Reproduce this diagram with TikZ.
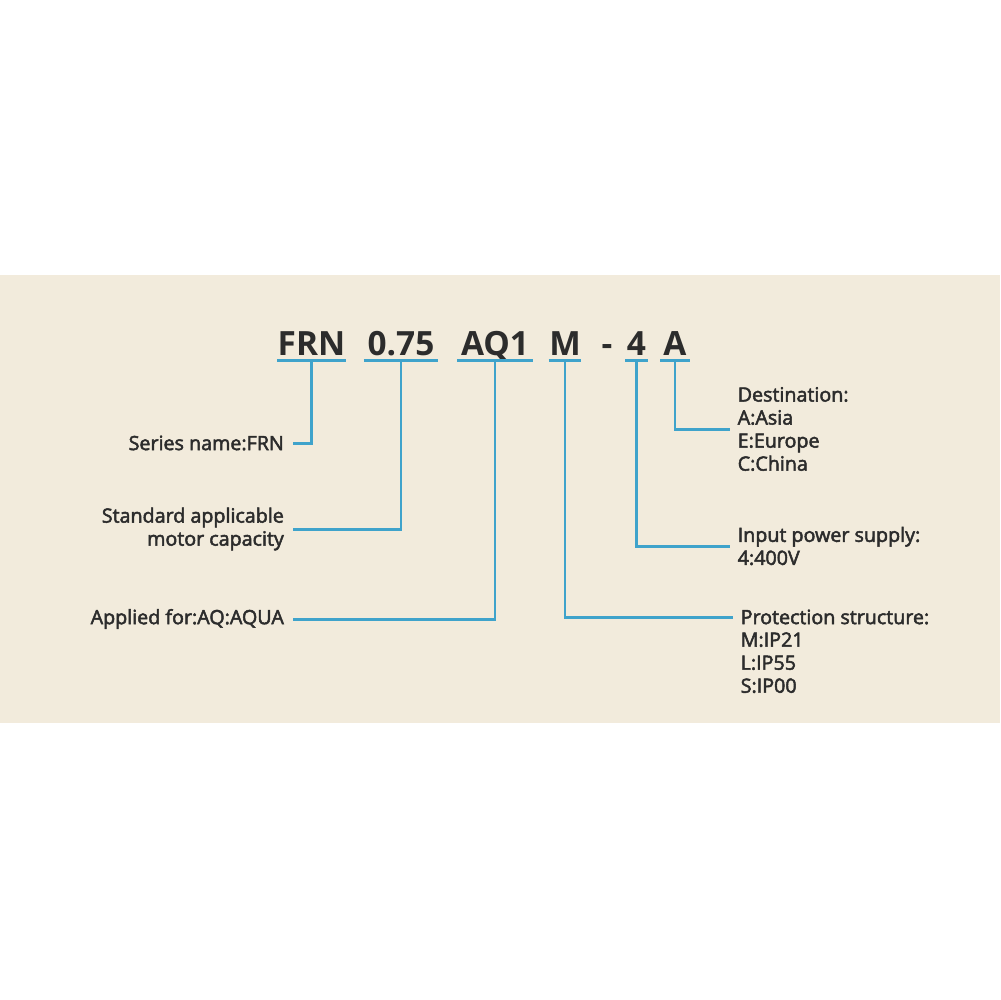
\documentclass[tikz,border=0pt]{standalone}
\usepackage{fontspec}
\setmainfont{Open Sans}
\newfontfamily\lblfont[FakeBold=2.5]{Open Sans}
\usepackage{xcolor}
\usetikzlibrary{positioning}
\definecolor{panel}{HTML}{F2EBDC}
\definecolor{wire}{HTML}{3FA3CB}
\definecolor{ink}{HTML}{2C2C2C}
\tikzset{
  code/.style={anchor=base, text=ink, font=\fontsize{9.5}{11}\selectfont\bfseries,
    inner xsep=0pt, inner ysep=1.4pt, text depth=0pt},
  lbl/.style={text=ink, font=\lblfont\fontsize{5.6}{6.55}\selectfont, inner ysep=0pt},
  lleft/.style={lbl, anchor=east, align=right, inner xsep=2.4pt},
  lright/.style={lbl, anchor=west, align=left, inner xsep=2pt},
  wire/.style={draw=wire, line width=0.85pt},
}
\begin{document}
\begin{tikzpicture}[x=0.1mm, y=-0.1mm]
    \useasboundingbox (0,0) rectangle (1000,1000);
    \fill[white] (0,0) rectangle (1000,1000);
    \fill[panel] (0,274.5) rectangle (1000,723);

    % Code du modèle
    \node[code, minimum width=6.7mm] (frn) at (311.5,355) {FRN};
    \node[code, minimum width=7.3mm] (cap) at (401,355) {0.75};
    \node[code, minimum width=7.4mm] (aq) at (495,355) {AQ1};
    \node[code, minimum width=3.1mm] (m) at (565,355) {M};
    \node[code] (dash) at (607,355) {-};
    \node[code, minimum width=2.1mm] (v) at (636.5,355) {4};
    \node[code, minimum width=2.8mm] (dst) at (675,355) {A};

    % Soulignements
    \foreach \n in {frn, cap, aq, m, v, dst}
        \draw[wire] (\n.south west) -- (\n.south east);

    % Libellés
    \node[lleft] (series) at (293,443) {Series name:FRN};
    \node[lleft] (motor) at (293,529) {Standard applicable\\motor capacity};
    \node[lleft] (applied) at (293,619) {Applied for:AQ:AQUA};
    \node[lright] (dest) at (730,429) {Destination:\\A:Asia\\E:Europe\\C:China};
    \node[lright] (power) at (730,546) {Input power supply:\\4:400V};
    \node[lright] (prot) at (733,617) {Protection structure:};
    \node[lbl, below=1.9pt of prot.south west, anchor=north west, align=left, inner xsep=2pt] (protlist) {M:IP21\\L:IP55\\S:IP00};

    % Liaisons
    \path[wire]
    (frn.south) edge[-, to path={|- (\tikztotarget)}] (series.east)
    (cap.south) edge[-, to path={|- (\tikztotarget)}] (motor.east)
    (aq.south) edge[-, to path={|- (\tikztotarget)}] (applied.east)
    (dst.south) edge[-, to path={|- (\tikztotarget)}] (dest.west)
    (v.south) edge[-, to path={|- (\tikztotarget)}] (power.west)
    (m.south) edge[-, to path={|- (\tikztotarget)}] (prot.west);

\end{tikzpicture}
\end{document}
